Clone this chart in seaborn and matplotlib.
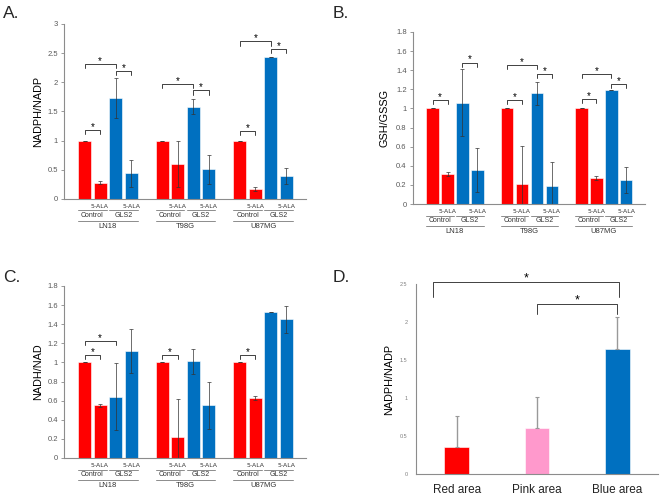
import numpy as np
import pandas as pd
import matplotlib
matplotlib.use("Agg")
import matplotlib.pyplot as plt
import seaborn as sns
from matplotlib.lines import Line2D
from matplotlib.transforms import blended_transform_factory, ScaledTranslation

# ---- data ----
cell_lines = ["LN18", "T98G", "U87MG"]
cond_groups = ["Control", "GLS2"]
cond_colors = ["red", "red", "blue", "blue"]
palette = {"red": "#FF0000", "blue": "#0070C0"}

# A. NADPH/NADP
nadph_vals = [[1.0, 0.28, 1.73, 0.44], [1.0, 0.60, 1.58, 0.51], [1.0, 0.17, 2.43, 0.39]]
nadph_errs = [[0.0, 0.02, 0.35, 0.23], [0.0, 0.40, 0.13, 0.25], [0.0, 0.03, 0.0, 0.14]]
nadph_sig = [(0, 0, 1, 1.19), (0, 0, 2, 2.31), (0, 2, 3, 2.19),
             (1, 0, 2, 1.97), (1, 2, 3, 1.86),
             (2, 0, 1, 1.16), (2, 0, 2, 2.70), (2, 2, 3, 2.57)]

# B. GSH/GSSG
gsh_vals = [[1.0, 0.31, 1.06, 0.36], [1.0, 0.21, 1.16, 0.19], [1.0, 0.27, 1.19, 0.25]]
gsh_errs = [[0.0, 0.02, 0.35, 0.23], [0.0, 0.40, 0.12, 0.25], [0.0, 0.02, 0.0, 0.14]]
gsh_sig = [(0, 0, 1, 1.09), (0, 2, 3, 1.48),
           (1, 0, 1, 1.09), (1, 0, 2, 1.45), (1, 2, 3, 1.36),
           (2, 0, 1, 1.10), (2, 0, 2, 1.36), (2, 2, 3, 1.26)]

# C. NADH/NAD
nadh_vals = [[1.0, 0.55, 0.64, 1.12], [1.0, 0.22, 1.01, 0.55], [1.0, 0.63, 1.53, 1.45]]
nadh_errs = [[0.0, 0.02, 0.35, 0.23], [0.0, 0.40, 0.13, 0.25], [0.0, 0.02, 0.0, 0.14]]
nadh_sig = [(0, 0, 1, 1.08), (0, 0, 2, 1.22), (1, 0, 1, 1.08), (2, 0, 1, 1.08)]

# D. NADPH/NADP by area
areas = ["Red area", "Pink area", "Blue area"]
area_vals = [0.35, 0.60, 1.65]
area_errs = [0.41, 0.41, 0.41]
area_colors = ["#FF0000", "#FF99CC", "#0070C0"]
# (x_left, x_right, y_top, y_leg_bottom)
area_sig = [(-0.3, 2.02, 2.53, 2.33), (1.0, 2.0, 2.24, 2.11)]

sns.set_style("white")
plt.rcParams["font.family"] = ["Liberation Sans", "DejaVu Sans"]

W, H = 660, 496
fig = plt.figure(figsize=(W / 100, H / 100), dpi=100)


def px_axes(left, top, right, bottom):
    return fig.add_axes([left / W, 1 - bottom / H, (right - left) / W, (bottom - top) / H])


def below(ax, px):
    # x in data, y offset in pixels below the x axis
    return blended_transform_factory(ax.transData, ax.transAxes) + \
        ScaledTranslation(0, -px / 100, fig.dpi_scale_trans)


def style_axes(ax, ymax, ystep, ylabel, label_x):
    ax.set_ylim(0, ymax)
    ticks = np.round(np.arange(0, ymax + 1e-9, ystep), 2)
    ax.set_yticks(ticks)
    ax.set_yticklabels([f"{t:g}" for t in ticks], fontsize=5.5, color="#595959")
    ax.tick_params(axis="y", length=2.5, width=0.6, color="#888888", pad=2, left=True)
    ax.tick_params(axis="x", length=0)
    ax.set_xticks([])
    ax.set_xlabel("")
    for s in ["top", "right"]:
        ax.spines[s].set_visible(False)
    for s in ["left", "bottom"]:
        ax.spines[s].set_color("#8C8C8C")
        ax.spines[s].set_linewidth(0.8)
    ax.set_ylabel(ylabel, fontsize=7.8, color="black")
    ax.yaxis.set_label_coords(label_x, 0.5)


def bracket(ax, x1, x2, y, leg, ybot1=None, ybot2=None, fs=7):
    b1 = y - leg if ybot1 is None else ybot1
    b2 = y - leg if ybot2 is None else ybot2
    ax.plot([x1, x1, x2, x2], [b1, y, y, b2], color="#404040", lw=0.7, clip_on=False)
    ax.text((x1 + x2) / 2, y, "*", ha="center", va="baseline", fontsize=fs, color="black")


def cell_panel(ax, vals, errs, sig, ymax, ystep, ylabel, label_x, leg):
    rows = []
    order = []
    for g, line in enumerate(cell_lines):
        for i in range(4):
            rows.append({"slot": f"{line}_{i}", "value": vals[g][i],
                         "err": errs[g][i], "color": cond_colors[i]})
            order.append(f"{line}_{i}")
        if g < len(cell_lines) - 1:
            order.append(f"gap_{g}")
    df = pd.DataFrame(rows)
    sns.barplot(data=df, x="slot", y="value", hue="color", palette=palette,
                order=order, dodge=False, width=0.84, legend=False, ax=ax,
                edgecolor="white", linewidth=0.4, errorbar=None, saturation=1)
    xs = [order.index(s) for s in df["slot"]]
    ax.errorbar(xs, df["value"], yerr=df["err"], fmt="none", ecolor="#333333",
                elinewidth=0.5, capsize=1.5, capthick=0.5)
    ax.set_xlim(-1.32, len(order) - 1 + 1.26)
    style_axes(ax, ymax, ystep, ylabel, label_x)

    for g, line in enumerate(cell_lines):
        x0 = g * 5
        for k, grp in enumerate(cond_groups):
            xa = x0 + 2 * k
            ax.text(xa + 1, 0, "5-ALA", transform=below(ax, 5), ha="center", va="top",
                    fontsize=4.4, color="#333333", family="DejaVu Sans")
            ax.add_line(Line2D([xa - 0.42, xa + 1.42], [0, 0], transform=below(ax, 11.5),
                               color="#8C8C8C", lw=0.7, clip_on=False))
            ax.text(xa + 0.5, 0, grp, transform=below(ax, 13), ha="center", va="top",
                    fontsize=5, color="#333333")
        ax.add_line(Line2D([x0 - 0.42, x0 + 3.42], [0, 0], transform=below(ax, 22),
                           color="#8C8C8C", lw=0.7, clip_on=False))
        ax.text(x0 + 1.5, 0, line, transform=below(ax, 24), ha="center", va="top",
                fontsize=5.5, color="#333333")

    for g, i, j, y in sig:
        bracket(ax, g * 5 + i, g * 5 + j, y, leg)


axA = px_axes(64, 24, 306, 199)
cell_panel(axA, nadph_vals, nadph_errs, nadph_sig, 3, 0.5, "NADPH/NADP", -21 / 242, 0.07)

axB = px_axes(413, 32, 645, 204)
cell_panel(axB, gsh_vals, gsh_errs, gsh_sig, 1.8, 0.2, "GSH/GSSG", -23 / 232, 0.042)

axC = px_axes(64, 286, 306, 458)
cell_panel(axC, nadh_vals, nadh_errs, nadh_sig, 1.8, 0.2, "NADH/NAD", -21 / 242, 0.042)

# ---- D ----
axD = px_axes(416, 284, 658, 474)
dfD = pd.DataFrame({"area": areas, "value": area_vals, "err": area_errs})
sns.barplot(data=dfD, x="area", y="value", hue="area", palette=area_colors,
            order=areas, width=0.31, legend=False, ax=axD, errorbar=None,
            edgecolor="white", linewidth=0.4, saturation=1)
axD.errorbar(range(len(areas)), area_vals, yerr=[[0] * len(areas), area_errs],
             fmt="none", ecolor="#999999", elinewidth=1.0, capsize=1.5, capthick=0.8)
axD.set_xlim(-0.51, 2.51)
style_axes(axD, 2.5, 0.5, "NADPH/NADP", -22 / 242)
axD.set_yticklabels([f"{t:g}" for t in np.arange(0, 2.51, 0.5)], fontsize=4, color="#7F7F7F")
axD.tick_params(axis="y", length=0, pad=6)
axD.set_xticks(range(len(areas)))
axD.set_xticklabels(areas, fontsize=8.5, color="#222222")
axD.tick_params(axis="x", length=0, pad=7)
for x1, x2, y, yb in area_sig:
    bracket(axD, x1, x2, y, y - yb, fs=9)

# ---- panel letters ----
for lbl, x, y in [("A.", 3, 6), ("B.", 333, 6), ("C.", 3, 270), ("D.", 333, 270)]:
    fig.text(x / W, 1 - y / H, lbl, fontsize=12.5, ha="left", va="top")

fig.savefig("out.png", dpi=100)
plt.close(fig)
